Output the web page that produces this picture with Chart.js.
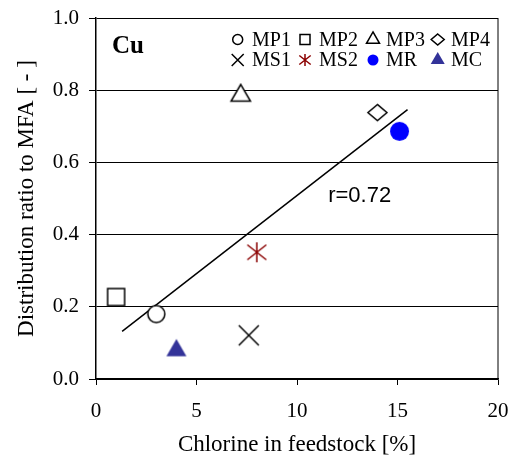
<!DOCTYPE html>
<html>
<head>
<meta charset="utf-8">
<title>Cu distribution ratio</title>
<script src="https://cdn.jsdelivr.net/npm/chart.js@4/dist/chart.umd.min.js"></script>
<style>
  html, body { margin: 0; padding: 0; background: #fff; }
  #wrap { width: 515px; height: 461px; }
</style>
</head>
<body>
<div id="wrap"><canvas id="chart" width="515" height="461"></canvas></div>
<script>
// data
const seriesNames = ['MP1', 'MP2', 'MP3', 'MP4', 'MS1', 'MS2', 'MR', 'MC'];
const chlorine    = [3.0, 1.0, 7.2, 14.0, 7.6, 8.0, 15.1, 4.0];
const ratio       = [0.18, 0.227, 0.785, 0.738, 0.121, 0.351, 0.686, 0.079];
const trendX      = [1.3, 15.5];
const trendY      = [0.132, 0.746];
const xTicks      = [0, 5, 10, 15, 20];
const yTicks      = [0, 0.2, 0.4, 0.6, 0.8, 1.0];
const metal       = 'Cu';
const rLabel      = 'r=0.72';

// marker look per series
const markerKind  = ['circle', 'square', 'triangle', 'diamond', 'cross', 'asterisk', 'dot', 'filledTriangle'];
const markerColor = ['#000', '#000', '#000', '#000', '#000', '#8b0000', '#0000ff', '#333399'];
const markerSize  = [8.5, 8.5, 9.7, 9.5, 10, 10, 9.5, 10];

const SERIF = '"Liberation Serif", "Times New Roman", serif';
const SANS  = '"Liberation Sans", Arial, sans-serif';

function drawMarker(ctx, kind, x, y, s, color) {
  ctx.save();
  ctx.lineWidth   = 1.5;
  ctx.strokeStyle = color;
  ctx.fillStyle   = '#fff';
  ctx.beginPath();
  const h = s * Math.sqrt(3);
  switch (kind) {
    case 'circle':
      ctx.arc(x, y, s, 0, Math.PI * 2);
      ctx.fill(); ctx.stroke();
      break;
    case 'square':
      ctx.rect(x - s, y - s, 2 * s, 2 * s);
      ctx.fill(); ctx.stroke();
      break;
    case 'triangle':
    case 'filledTriangle':
      ctx.moveTo(x, y - h * 2 / 3);
      ctx.lineTo(x + s, y + h / 3);
      ctx.lineTo(x - s, y + h / 3);
      ctx.closePath();
      if (kind === 'filledTriangle') { ctx.fillStyle = color; ctx.fill(); }
      else { ctx.fill(); ctx.stroke(); }
      break;
    case 'diamond':
      ctx.moveTo(x, y - s * 0.85);
      ctx.lineTo(x + s, y);
      ctx.lineTo(x, y + s * 0.85);
      ctx.lineTo(x - s, y);
      ctx.closePath();
      ctx.fill(); ctx.stroke();
      break;
    case 'cross':
      ctx.moveTo(x - s, y - s); ctx.lineTo(x + s, y + s);
      ctx.moveTo(x + s, y - s); ctx.lineTo(x - s, y + s);
      ctx.stroke();
      break;
    case 'asterisk':
      ctx.moveTo(x, y - s); ctx.lineTo(x, y + s);
      ctx.moveTo(x - s * 0.95, y - s * 0.75); ctx.lineTo(x + s * 0.95, y + s * 0.75);
      ctx.moveTo(x + s * 0.95, y - s * 0.75); ctx.lineTo(x - s * 0.95, y + s * 0.75);
      ctx.stroke();
      break;
    case 'dot':
      ctx.arc(x, y, s, 0, Math.PI * 2);
      ctx.fillStyle = color;
      ctx.fill();
      break;
  }
  ctx.restore();
}

function markerImage(kind, s, color) {
  const c = document.createElement('canvas');
  const n = Math.ceil(2 * s + 6);
  c.width = n; c.height = n;
  drawMarker(c.getContext('2d'), kind, n / 2, n / 2, s, color);
  return c;
}

const datasets = seriesNames.map((name, i) => ({
  label:       name,
  data:        [{ x: chlorine[i], y: ratio[i] }],
  pointStyle:  markerImage(markerKind[i], markerSize[i], markerColor[i]),
  pointRadius: markerSize[i],
  showLine:    false,
}));

// trend line goes last so the markers sit on top of it
datasets.push({
  label:           'trend',
  data:            trendX.map((x, i) => ({ x, y: trendY[i] })),
  showLine:        true,
  borderColor:     '#000',
  borderWidth:     1.5,
  pointRadius:     0,
  fill:            false,
});

// scales add label overflow to the layout; the frame is fixed here instead
function noScalePadding(s) {
  s.paddingTop = 0; s.paddingBottom = 0;
  s.paddingLeft = 0; s.paddingRight = 0;
}

const decorPlugin = {
  id: 'decor',
  afterDraw(chart) {
    const { ctx, chartArea: a, scales } = chart;
    ctx.save();

    // right frame edge
    ctx.strokeStyle = '#000';
    ctx.lineWidth   = 1;
    ctx.beginPath();
    ctx.moveTo(a.right, a.top);
    ctx.lineTo(a.right, a.bottom);
    ctx.stroke();

    // metal label
    ctx.fillStyle    = '#000';
    ctx.font         = 'bold 25px ' + SERIF;
    ctx.textBaseline = 'middle';
    ctx.textAlign    = 'left';
    ctx.fillText(metal, a.left + 16, a.top + 29);

    // correlation
    ctx.font = '22px ' + SANS;
    ctx.fillText(rLabel, scales.x.getPixelForValue(11.55), scales.y.getPixelForValue(0.508));

    // legend, two rows of four
    const markX = [237.7, 305, 373, 437.7];
    const textX = [252, 319, 386, 451];
    const rowY  = [39.5, 60];
    const legendSize = [5, 5, 6.5, 6.5, 6, 6, 5.5, 7];
    ctx.font = '20px ' + SERIF;
    seriesNames.forEach((name, i) => {
      const col = i % 4, row = Math.floor(i / 4);
      drawMarker(ctx, markerKind[i], markX[col], rowY[row], legendSize[i], markerColor[i]);
      ctx.fillStyle = '#000';
      ctx.fillText(name, textX[col], rowY[row] + 1);
    });

    ctx.restore();
  },
};

new Chart(document.getElementById('chart'), {
  type: 'scatter',
  data: { datasets },
  plugins: [decorPlugin],
  options: {
    responsive: false,
    animation:  false,
    layout: { padding: { left: 0, right: 17, top: 18, bottom: 0 } },
    plugins: {
      legend:  { display: false },
      tooltip: { enabled: false },
    },
    scales: {
      x: {
        type: 'linear',
        min: 0,
        max: 20,
        afterBuildTicks: s => { s.ticks = xTicks.map(v => ({ value: v })); },
        afterFit: s => { s.height = 82; noScalePadding(s); },
        ticks: {
          color: '#000',
          padding: 14,
          font: { family: SERIF, size: 21 },
        },
        grid: {
          drawOnChartArea: false,
          drawTicks:       true,
          tickLength:      6,
          color:           '#000',
          lineWidth:       1,
        },
        border: { color: '#000', width: 1.5 },
        title: {
          display: true,
          text:    'Chlorine in feedstock [%]',
          color:   '#000',
          font:    { family: SERIF, size: 23 },
          padding: { top: 0, bottom: 2 },
        },
      },
      y: {
        type: 'linear',
        min: 0,
        max: 1,
        afterBuildTicks: s => { s.ticks = yTicks.map(v => ({ value: v })); },
        afterFit: s => { s.width = 96; noScalePadding(s); },
        ticks: {
          color:    '#000',
          padding:  10,
          font:     { family: SERIF, size: 21 },
          callback: v => Number(v).toFixed(1),
        },
        grid: {
          color:      '#000',
          lineWidth:  1,
          tickLength: 7,
        },
        border: { color: '#000', width: 1.5 },
        title: {
          display: true,
          text:    'Distribution ratio to MFA [ - ]',
          color:   '#000',
          font:    { family: SERIF, size: 23 },
          padding: { top: 13, bottom: 0 },
        },
      },
    },
  },
});
</script>
</body>
</html>
